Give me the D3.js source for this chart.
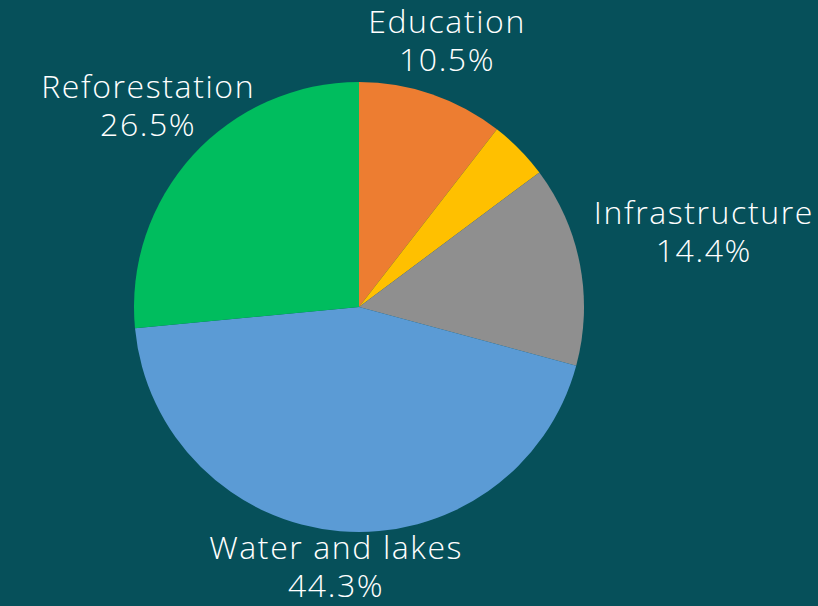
<!DOCTYPE html>
<html>
<head>
<meta charset="utf-8">
<script src="https://cdn.jsdelivr.net/npm/d3@7"></script>
<style>
  html, body { margin: 0; padding: 0; background: #06505a; }
  svg { display: block; }
  text { font-family: "Open Sans", sans-serif; font-weight: 300; fill: #ffffff; letter-spacing: 1.6px; }
</style>
</head>
<body>
<svg id="chart"></svg>
<script>
const categories = ["Education", "", "Infrastructure", "Water and lakes", "Reforestation"];
const values = [10.5, 4.3, 14.4, 44.3, 26.5];
const colors = ["#ed7d31", "#ffc000", "#8f8f8f", "#5b9bd5", "#00bd5e"];

let width = 818;
let height = 606;
let cx = 359, cy = 307, radius = 225;
let fontSize = 32, lineGap = 38, capHeight = 24;

const svg = d3.select("#chart")
    .attr("width", width)
    .attr("height", height)
    .attr("viewBox", [0, 0, width, height]);

const data = categories.map((c, i) => ({name: c, value: values[i], color: colors[i]}));

const pie = d3.pie().sort(null).value(d => d.value);
const arcs = pie(data);
const arc = d3.arc().innerRadius(0).outerRadius(radius);

const g = svg.append("g").attr("transform", `translate(${cx},${cy})`);

g.selectAll("path")
    .data(arcs)
    .join("path")
    .attr("d", arc)
    .attr("fill", d => d.data.color);

// outside labels: a box whose edge touches a point just past the rim,
// box centre moved out along the slice's mid angle. text sits a bit high in its box.
const hh = 31;
const boxDrop = 10;

const labels = g.selectAll("text.label")
    .data(arcs.filter(d => d.data.name !== ""))
    .join("text")
    .attr("class", "label")
    .attr("text-anchor", "middle")
    .attr("font-size", fontSize);

labels.append("tspan")
    .attr("x", 0)
    .attr("y", -hh + capHeight)
    .text(d => d.data.name);

labels.append("tspan")
    .attr("x", 0)
    .attr("y", -hh + capHeight + lineGap)
    .text(d => d.data.value.toFixed(1) + "%");

labels.attr("transform", function (d) {
    const hw = this.getBBox().width / 2;
    const a = (d.startAngle + d.endAngle) / 2;
    const r = radius + 14;
    const sx = Math.sin(a), sy = -Math.cos(a);
    const t = Math.min(hw / Math.abs(sx || 1e-9), hh / Math.abs(sy || 1e-9));
    const px = sx * r + t * sx;
    const py = sy * r + t * sy - boxDrop;
    return `translate(${px},${py})`;
});
</script>
</body>
</html>
